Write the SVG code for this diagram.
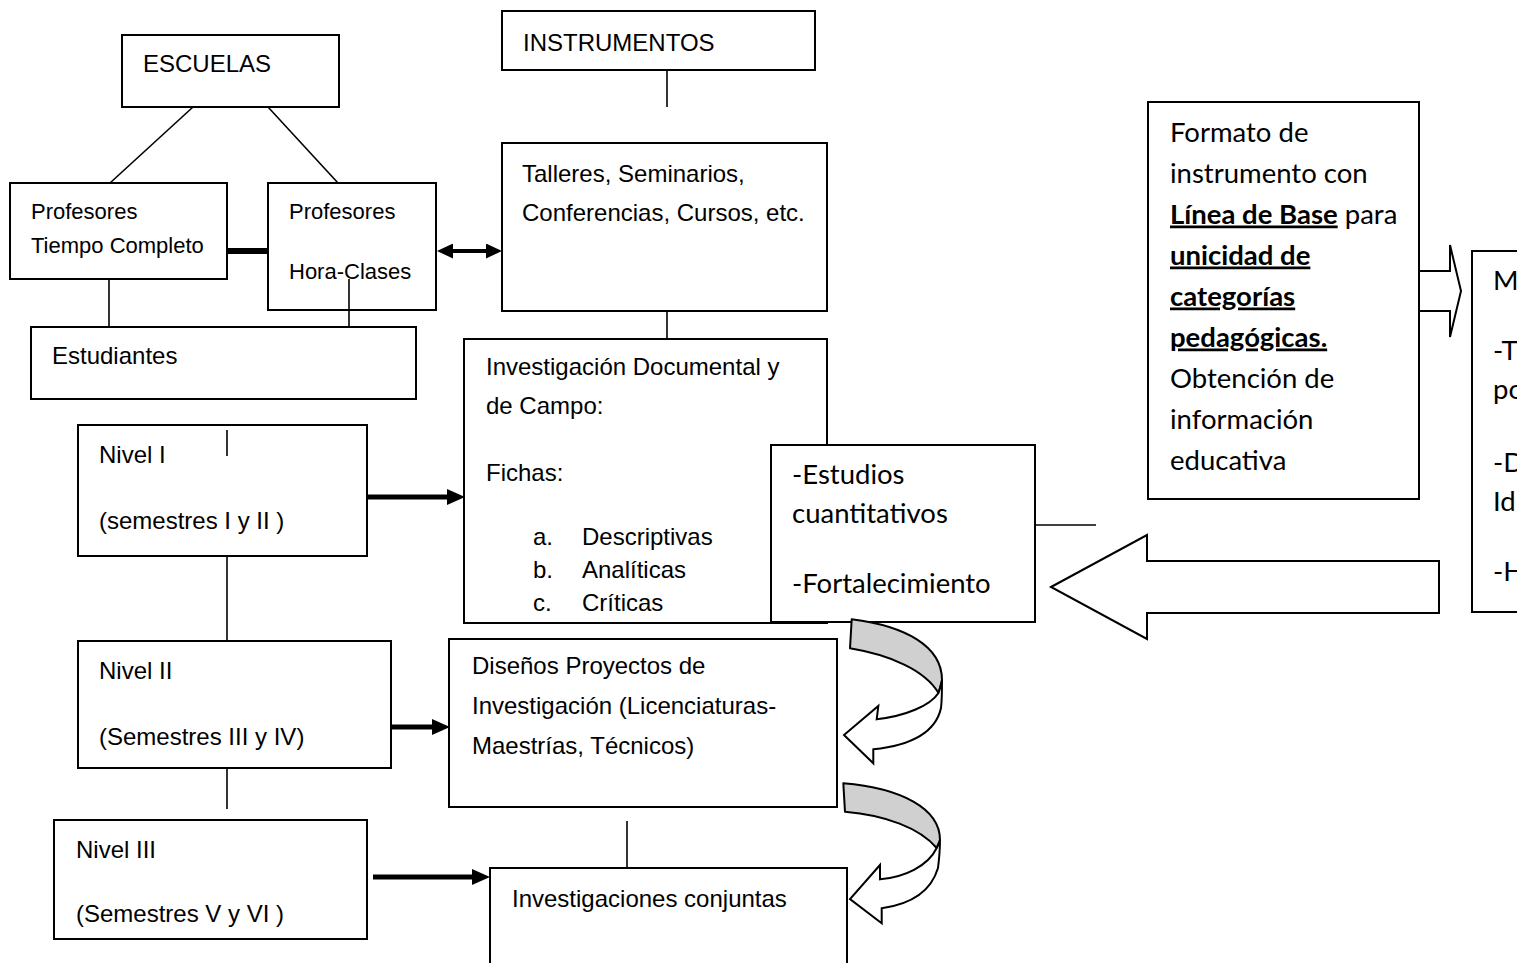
<svg xmlns="http://www.w3.org/2000/svg" width="1517" height="963" viewBox="0 0 1517 963">
<style>
.box{fill:#fff;stroke:#000;stroke-width:2}
.ln{stroke:#000;stroke-width:1.6;fill:none}
.th{stroke:#000;stroke-width:5;fill:none}
.bk{stroke:#000;stroke-width:6;fill:none}
.blk{fill:#fff;stroke:#000;stroke-width:2;stroke-linejoin:miter}
.gr{fill:#d0d0d0;stroke:#000;stroke-width:2;stroke-linejoin:round}
.wh{fill:#fff;stroke:#000;stroke-width:2;stroke-linejoin:miter}
.t{font-family:"Liberation Sans",Arial,sans-serif;font-size:24px;fill:#000}
.ts{font-size:22px}
.c{font-family:Lato,"Open Sans",sans-serif;font-size:27.5px;fill:#000}
.b{font-weight:bold;text-decoration:underline}
</style>
<defs>
<marker id="ah" markerUnits="userSpaceOnUse" markerWidth="18" markerHeight="16" viewBox="0 0 18 16" refX="0" refY="8" orient="auto-start-reverse"><path d="M0,0 L18,8 L0,16 Z" fill="#000"/></marker>
<marker id="ah2" markerUnits="userSpaceOnUse" markerWidth="16" markerHeight="15" viewBox="0 0 16 15" refX="0" refY="7.5" orient="auto-start-reverse"><path d="M0,0 L16,7.5 L0,15 Z" fill="#000"/></marker>
</defs>
<rect width="1517" height="963" fill="#fff"/>

<g id="escuelas"><rect class="box" x="122" y="35" width="217" height="72"/><text class="t" x="143" y="72">ESCUELAS</text></g>
<g id="instrumentos"><rect class="box" x="502" y="11" width="313" height="59"/><text class="t" x="523" y="51">INSTRUMENTOS</text></g>
<g id="prof-tc"><rect class="box" x="10" y="183" width="217" height="96"/><text class="t ts" x="31" y="219">Profesores</text><text class="t ts" x="31" y="253">Tiempo Completo</text></g>
<g id="prof-hc"><rect class="box" x="268" y="183" width="168" height="127"/><text class="t ts" x="289" y="219">Profesores</text><text class="t ts" x="289" y="279">Hora-Clases</text></g>
<g id="talleres"><rect class="box" x="502" y="143" width="325" height="168"/><text class="t" x="522" y="182">Talleres, Seminarios,</text><text class="t" x="522" y="221">Conferencias, Cursos, etc.</text></g>
<g id="estudiantes"><rect class="box" x="31" y="327" width="385" height="72"/><text class="t" x="52" y="364">Estudiantes</text></g>
<g id="investigacion"><rect class="box" x="464" y="339" width="363" height="284"/>
<text class="t" x="486" y="375">Investigación Documental  y</text>
<text class="t" x="486" y="414">de Campo:</text>
<text class="t" x="486" y="481">Fichas:</text>
<text class="t" x="533" y="545">a.</text><text class="t" x="582" y="545">Descriptivas</text>
<text class="t" x="533" y="578">b.</text><text class="t" x="582" y="578">Analíticas</text>
<text class="t" x="533" y="611">c.</text><text class="t" x="582" y="611">Críticas</text></g>
<g id="estudios"><rect class="box" x="771" y="445" width="264" height="177"/>
<text class="c" x="792" y="484">-Estudios</text><text class="c" x="792" y="523">cuantitativos</text><text class="c" x="792" y="593">-Fortalecimiento</text></g>
<g id="formato"><rect class="box" x="1148" y="102" width="271" height="397"/>
<text class="c" x="1170" y="141.5">Formato de</text>
<text class="c" x="1170" y="182.5">instrumento con</text>
<text class="c" x="1170" y="223.5"><tspan class="b">Línea de Base</tspan> para</text>
<text class="c" x="1170" y="264.5"><tspan class="b">unicidad de</tspan></text>
<text class="c" x="1170" y="305.5"><tspan class="b">categorías</tspan></text>
<text class="c" x="1170" y="346.5"><tspan class="b">pedagógicas.</tspan></text>
<text class="c" x="1170" y="387.5">Obtención de</text>
<text class="c" x="1170" y="428.5">información</text>
<text class="c" x="1170" y="469.5">educativa</text></g>
<g id="m-box"><rect class="box" x="1472" y="251" width="70" height="361"/>
<text class="c" x="1493" y="290">M</text><text class="c" x="1493" y="360">-T</text><text class="c" x="1493" y="399">po</text>
<text class="c" x="1493" y="472">-D</text><text class="c" x="1493" y="511">Id</text><text class="c" x="1493" y="581">-H</text></g>
<g id="nivel1"><rect class="box" x="78" y="425" width="289" height="131"/><text class="t" x="99" y="463">Nivel I</text><text class="t" x="99" y="529">(semestres I y II )</text></g>
<g id="nivel2"><rect class="box" x="78" y="641" width="313" height="127"/><text class="t" x="99" y="679">Nivel II</text><text class="t" x="99" y="745">(Semestres III y IV)</text></g>
<g id="nivel3"><rect class="box" x="54" y="820" width="313" height="119"/><text class="t" x="76" y="858">Nivel III</text><text class="t" x="76" y="922">(Semestres V y VI )</text></g>
<g id="disenos"><rect class="box" x="449" y="639" width="388" height="168"/>
<text class="t" x="472" y="674">Diseños Proyectos de</text><text class="t" x="472" y="714">Investigación (Licenciaturas-</text><text class="t" x="472" y="754">Maestrías, Técnicos)</text></g>
<g id="conjuntas"><rect class="box" x="490" y="868" width="357" height="110"/><text class="t" x="512" y="907">Investigaciones conjuntas</text></g>

<g id="connectors">
<line class="ln" x1="193" y1="107" x2="110" y2="183"/>
<line class="ln" x1="268" y1="107" x2="338" y2="183"/>
<line class="ln" x1="109" y1="279" x2="109" y2="327"/>
<line class="ln" x1="349" y1="279" x2="349" y2="327"/>
<line class="bk" x1="227" y1="251" x2="268" y2="251"/>
<line class="ln" x1="667" y1="70" x2="667" y2="107"/>
<line class="ln" x1="667" y1="311" x2="667" y2="339"/>
<line class="ln" x1="227" y1="430" x2="227" y2="456"/>
<line class="ln" x1="227" y1="556" x2="227" y2="641"/>
<line class="ln" x1="227" y1="768" x2="227" y2="809"/>
<line class="ln" x1="627" y1="821" x2="627" y2="868"/>
<line class="ln" x1="1035" y1="525" x2="1096" y2="525"/>
<line stroke="#000" stroke-width="4" x1="453" y1="251" x2="486" y2="251" marker-start="url(#ah2)" marker-end="url(#ah2)"/>
<line class="th" x1="367" y1="497" x2="447" y2="497" marker-end="url(#ah)"/>
<line class="th" x1="391" y1="727" x2="432" y2="727" marker-end="url(#ah)"/>
<line class="th" x1="373" y1="877" x2="472" y2="877" marker-end="url(#ah)"/>
<polygon class="blk" points="1419,271 1450,271 1450,245 1461,291 1450,337 1450,311 1419,311"/>
<polygon class="blk" points="1051,587 1147,535 1147,561 1439,561 1439,613 1147,613 1147,639"/>
<path class="gr" d="M851.7,619.3 C905,626 942,646 942,680 L938.5,693 C925,670 890,655 850,648.3 Z"/>
<path class="wh" d="M942,680 C942,690 942,700 941,708 C935,735 905,746 873.3,749.3 L873.3,763.3 L844,735 L878.3,706 L876.7,719.3 C905,716 930,706 938.5,693 C940,688 942,684 942,680 Z"/>
<path class="gr" d="M843.3,783.3 C900,788 940,808 940,840 L936.7,848 C920,828 885,815 845,811.7 Z"/>
<path class="wh" d="M940,840 C940,852 939,860 938,868 C930,895 905,905 881.7,908.3 L881.7,923.3 L850,899 L880,865 L880,879.3 C905,877 928,866 936.7,848 C938,845 940,843 940,840 Z"/>
</g>
</svg>
